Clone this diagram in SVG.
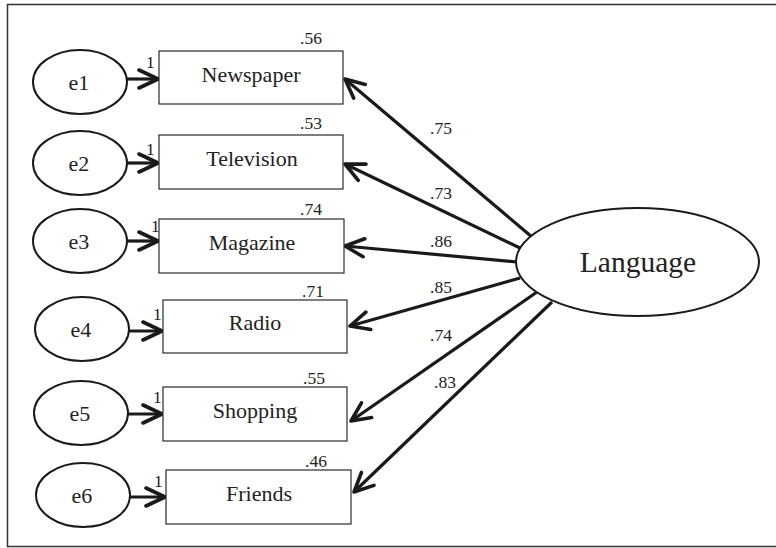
<svg xmlns="http://www.w3.org/2000/svg" width="776" height="548" viewBox="0 0 776 548">
  <style>
    .frame { fill: #fff; stroke: #333; stroke-width: 1.5; }
    .box { fill: #fff; stroke: #2a2a2a; stroke-width: 1.2; }
    .oval { fill: #fff; stroke: #1a1a1a; stroke-width: 2; }
    .lbl { font-family: "Liberation Serif", "Times New Roman", serif; font-size: 22px; fill: #222; text-anchor: middle; }
    .big { font-family: "Liberation Serif", "Times New Roman", serif; font-size: 29.5px; fill: #222; text-anchor: middle; }
    .num { font-family: "Liberation Serif", "Times New Roman", serif; font-size: 17.5px; fill: #222; }
    .edge { stroke: #1a1a1a; stroke-width: 3.2; fill: none; marker-end: url(#head); }
  </style>
  <defs>
    <marker id="head" markerUnits="userSpaceOnUse" viewBox="0 0 24 22" markerWidth="24" markerHeight="22" refX="21" refY="11" orient="auto">
      <path d="M2,2 L21,11 L2,20" fill="none" stroke="#1a1a1a" stroke-width="3.6" stroke-linecap="round" stroke-linejoin="round"/>
    </marker>
  </defs>

  <rect class="frame" x="7.5" y="4.5" width="780" height="542"/>

  <!-- connectors -->
  <g id="connectors">
    <line class="edge" x1="127" y1="79" x2="158" y2="79"/>
    <line class="edge" x1="127" y1="163" x2="158" y2="163"/>
    <line class="edge" x1="127" y1="241" x2="158" y2="241"/>
    <line class="edge" x1="129" y1="331" x2="162" y2="331"/>
    <line class="edge" x1="128" y1="414" x2="162" y2="414"/>
    <line class="edge" x1="130" y1="497" x2="165" y2="497"/>

    <line class="edge" x1="532" y1="237" x2="345" y2="79"/>
    <line class="edge" x1="520" y1="248" x2="345" y2="164"/>
    <line class="edge" x1="517" y1="262" x2="345" y2="246"/>
    <line class="edge" x1="520" y1="278" x2="350" y2="326"/>
    <line class="edge" x1="537" y1="292" x2="351" y2="421"/>
    <line class="edge" x1="552" y1="302" x2="354" y2="492"/>

    <text class="num" x="146" y="68">1</text>
    <text class="num" x="146" y="155">1</text>
    <text class="num" x="151" y="232">1</text>
    <text class="num" x="153" y="320">1</text>
    <text class="num" x="153" y="403">1</text>
    <text class="num" x="154" y="487">1</text>

    <text class="num" x="430" y="134">.75</text>
    <text class="num" x="430" y="199">.73</text>
    <text class="num" x="430" y="247">.86</text>
    <text class="num" x="430" y="293">.85</text>
    <text class="num" x="430" y="341">.74</text>
    <text class="num" x="434" y="388">.83</text>
  </g>

  <!-- error terms -->
  <g id="e1"><ellipse class="oval" cx="80" cy="82" rx="47" ry="32"/><text class="lbl" x="79" y="90">e1</text></g>
  <g id="e2"><ellipse class="oval" cx="80" cy="163" rx="47" ry="32"/><text class="lbl" x="79" y="171">e2</text></g>
  <g id="e3"><ellipse class="oval" cx="80" cy="241" rx="47" ry="32"/><text class="lbl" x="79" y="249">e3</text></g>
  <g id="e4"><ellipse class="oval" cx="82" cy="329" rx="47" ry="32"/><text class="lbl" x="81" y="337">e4</text></g>
  <g id="e5"><ellipse class="oval" cx="81" cy="413" rx="47" ry="32"/><text class="lbl" x="80" y="421">e5</text></g>
  <g id="e6"><ellipse class="oval" cx="83" cy="495" rx="47" ry="32"/><text class="lbl" x="82" y="503">e6</text></g>

  <!-- observed indicators -->
  <g id="newspaper">
    <rect class="box" x="159" y="51" width="184" height="53"/>
    <text class="lbl" x="251" y="82">Newspaper</text>
    <text class="num" x="300" y="44">.56</text>
  </g>
  <g id="television">
    <rect class="box" x="159" y="135" width="184" height="54"/>
    <text class="lbl" x="252" y="166">Television</text>
    <text class="num" x="300" y="129">.53</text>
  </g>
  <g id="magazine">
    <rect class="box" x="159" y="219" width="185" height="54"/>
    <text class="lbl" x="252" y="250">Magazine</text>
    <text class="num" x="300" y="215">.74</text>
  </g>
  <g id="radio">
    <rect class="box" x="163" y="300" width="184" height="53"/>
    <text class="lbl" x="255" y="330">Radio</text>
    <text class="num" x="302" y="297">.71</text>
  </g>
  <g id="shopping">
    <rect class="box" x="163" y="387" width="184" height="54"/>
    <text class="lbl" x="255" y="418">Shopping</text>
    <text class="num" x="303" y="384">.55</text>
  </g>
  <g id="friends">
    <rect class="box" x="166" y="470" width="185" height="54"/>
    <text class="lbl" x="259" y="501">Friends</text>
    <text class="num" x="305" y="467">.46</text>
  </g>

  <!-- latent factor -->
  <g id="language">
    <ellipse class="oval" cx="637.5" cy="262" rx="121.5" ry="54"/>
    <text class="big" x="638" y="272">Language</text>
  </g>
</svg>
